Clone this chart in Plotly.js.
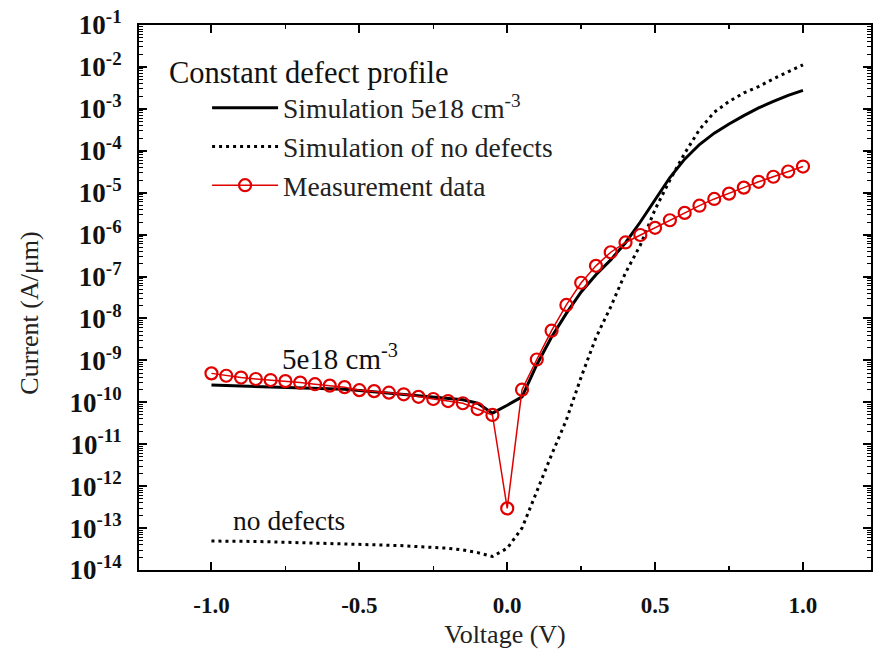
<!DOCTYPE html>
<html><head><meta charset="utf-8">
<script src="https://cdn.plot.ly/plotly-3.0.1.min.js"></script>
<style>body{margin:0;background:#fff}#chart{width:874px;height:654px}</style>
</head><body><div id="chart"></div>
<script>
const voltage = [-1.0,-0.95,-0.9,-0.85,-0.8,-0.75,-0.7,-0.65,-0.6,-0.55,-0.5,-0.45,-0.4,-0.35,-0.3,-0.25,-0.2,-0.15,-0.1,-0.05,
  0.0,0.05,0.1,0.15,0.2,0.25,0.3,0.35,0.4,0.45,0.5,0.55,0.6,0.65,0.7,0.75,0.8,0.85,0.9,0.95,1.0];
const simDefects = [2.57e-10,2.51e-10,2.45e-10,2.40e-10,2.34e-10,2.29e-10,2.24e-10,2.19e-10,2.14e-10,2.04e-10,
  1.91e-10,1.78e-10,1.66e-10,1.55e-10,1.45e-10,1.35e-10,1.26e-10,1.15e-10,9.5e-11,5.5e-11,
  8.5e-11,1.35e-10,7.9e-10,3.6e-9,1.32e-8,4.3e-8,1.1e-7,2.5e-7,6.4e-7,2.0e-6,
  6.8e-6,2.3e-5,6.3e-5,1.41e-4,2.63e-4,4.37e-4,6.9e-4,1.05e-3,1.5e-3,2.1e-3,2.75e-3];
const simNoDefects = [4.9e-14,4.9e-14,4.8e-14,4.8e-14,4.7e-14,4.6e-14,4.5e-14,4.5e-14,4.4e-14,4.3e-14,
  4.2e-14,4.1e-14,3.9e-14,3.8e-14,3.6e-14,3.5e-14,3.3e-14,3.0e-14,2.6e-14,2.1e-14,
  3.3e-14,1.0e-13,7.9e-13,5.6e-12,3.8e-11,4.0e-10,3.5e-9,1.9e-8,1.23e-7,5.6e-7,
  4.0e-6,2.0e-5,8.7e-5,3.2e-4,8.3e-4,1.5e-3,2.4e-3,3.4e-3,5.2e-3,7.6e-3,1.12e-2];
const measured = [4.9e-10,4.3e-10,3.9e-10,3.6e-10,3.4e-10,3.2e-10,2.95e-10,2.7e-10,2.5e-10,2.3e-10,
  1.95e-10,1.85e-10,1.7e-10,1.55e-10,1.35e-10,1.2e-10,1.07e-10,9.5e-11,6.9e-11,5.0e-11,
  2.95e-13,2.0e-10,1.05e-9,5.1e-9,2.1e-8,7.1e-8,1.8e-7,3.8e-7,6.5e-7,9.8e-7,
  1.45e-6,2.2e-6,3.3e-6,4.9e-6,7.1e-6,9.5e-6,1.32e-5,1.82e-5,2.4e-5,3.2e-5,4.2e-5];
const seriesNames = ['Simulation 5e18 cm<sup>-3</sup>','Simulation of no defects','Measurement data'];
const yTickVals = [1e-14,1e-13,1e-12,1e-11,1e-10,1e-9,1e-8,1e-7,1e-6,1e-5,1e-4,1e-3,1e-2,1e-1];
const yTickText = ['10<sup>-14</sup>','10<sup>-13</sup>','10<sup>-12</sup>','10<sup>-11</sup>','10<sup>-10</sup>',
  '10<sup>-9</sup>','10<sup>-8</sup>','10<sup>-7</sup>','10<sup>-6</sup>','10<sup>-5</sup>','10<sup>-4</sup>',
  '10<sup>-3</sup>','10<sup>-2</sup>','10<sup>-1</sup>'];
const xTickVals = [-1.0,-0.5,0.0,0.5,1.0];
const xTickText = ['-1.0','-0.5','0.0','0.5','1.0'];

const serif = "'Liberation Serif', 'Times New Roman', serif";
const traces = [
  {x: voltage, y: simDefects, name: seriesNames[0], mode: 'lines', legendgroup: 'a',
   line: {color: '#000', width: 3}},
  {x: voltage, y: simNoDefects, name: seriesNames[1], mode: 'lines', legendgroup: 'b',
   line: {color: '#000', width: 3, dash: '3px,4px'}},
  {x: voltage, y: measured, name: seriesNames[2], mode: 'lines+markers', legendgroup: 'c',
   line: {color: '#e00000', width: 1.5},
   marker: {symbol: 'circle-open', size: 12, color: '#e00000', line: {width: 2.2, color: '#e00000'}}}
];
const layout = {
  width: 874, height: 654,
  margin: {l: 139, r: 3, t: 25, b: 84},
  paper_bgcolor: '#fff', plot_bgcolor: '#fff',
  font: {family: serif, color: '#111'},
  showlegend: true,
  legend: {x: 0.093, y: 0.893, xanchor: 'left', yanchor: 'top', bgcolor: 'rgba(0,0,0,0)',
    font: {family: serif, size: 27.5, color: '#222'}, tracegroupgap: 0, itemwidth: 66},
  xaxis: {range: [-1.245, 1.23], tickvals: xTickVals, ticktext: xTickText,
    ticks: 'inside', ticklen: 8, tickwidth: 2, tickcolor: '#000',
    showline: true, linewidth: 2, linecolor: '#000', mirror: 'allticks',
    showgrid: false, zeroline: false,
    minor: {ticks: 'inside', ticklen: 4, tickwidth: 1.5, dtick: 0.25, tickcolor: '#000', showgrid: false},
    tickfont: {family: serif, size: 23, color: '#111', weight: 'bold'}, ticklabelstandoff: 13,
    title: {text: 'Voltage (V)', font: {family: serif, size: 26, color: '#222'}, standoff: 8}},
  yaxis: {type: 'log', range: [-14, -1], tickvals: yTickVals, ticktext: yTickText,
    ticks: 'inside', ticklen: 8, tickwidth: 2, tickcolor: '#000',
    showline: true, linewidth: 2, linecolor: '#000', mirror: 'allticks',
    showgrid: false, zeroline: false,
    minor: {ticks: 'inside', ticklen: 4, tickwidth: 1, dtick: 'D1', tickcolor: '#000', showgrid: false},
    tickfont: {family: serif, size: 27, color: '#111', weight: 'bold'}, ticklabelstandoff: 10},
  annotations: [
    {text: 'Current (A/μm)', xref: 'paper', yref: 'paper', x: -0.149, y: 0.472, textangle: -90,
     xanchor: 'center', yanchor: 'middle', showarrow: false, font: {family: serif, size: 26, color: '#222'}},
    {text: 'Constant defect profile', xref: 'paper', yref: 'paper', x: 0.038, y: 0.912,
     xanchor: 'left', yanchor: 'middle', showarrow: false, font: {family: serif, size: 30.5, color: '#111'}},
    {text: '5e18 cm<sup>-3</sup>', xref: 'paper', yref: 'paper', x: 0.193, y: 0.391,
     xanchor: 'left', yanchor: 'middle', showarrow: false, font: {family: serif, size: 29, color: '#111'}},
    {text: 'no defects', xref: 'paper', yref: 'paper', x: 0.126, y: 0.09,
     xanchor: 'left', yanchor: 'middle', showarrow: false, font: {family: serif, size: 27.5, color: '#111'}}
  ]
};
Plotly.newPlot('chart', traces, layout, {displayModeBar: false, staticPlot: true});
</script>
</body></html>
